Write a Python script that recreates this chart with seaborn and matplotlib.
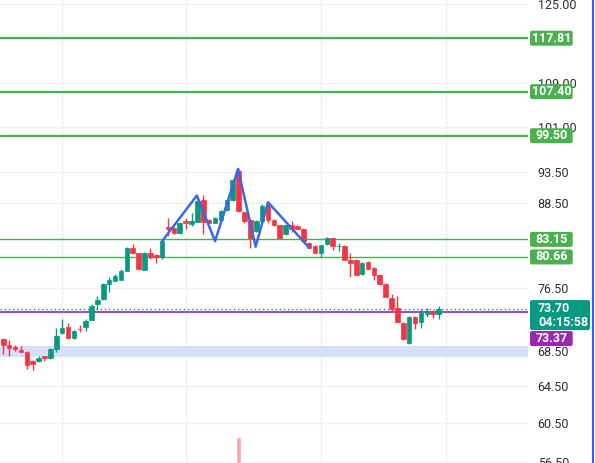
import numpy as np
import pandas as pd
import matplotlib
matplotlib.use("Agg")
import matplotlib.pyplot as plt
import seaborn as sns
from matplotlib.transforms import IdentityTransform
from matplotlib.patches import FancyBboxPatch
from matplotlib.lines import Line2D

sns.set_theme(style="white")
plt.rcParams["font.family"] = ["Roboto", "DejaVu Sans"]

# ---------------- data ----------------
opens = [69.95, 69.23, 69.03, 68.60, 68.43, 67.34, 67.30, 67.89, 67.65, 68.83,
         70.65, 71.50, 70.07, 71.20, 71.50, 72.32, 74.31, 74.95, 76.93, 77.36,
         77.50, 78.71, 81.96, 81.16, 78.85, 81.16, 80.88, 80.70, 84.99, 84.74,
         84.01, 85.91, 85.42, 85.66, 89.09, 86.06, 85.57, 86.06, 87.46, 88.98,
         93.56, 87.16, 86.06, 84.34, 85.81, 88.33, 86.06, 85.18, 83.87, 85.22,
         85.06, 84.59, 82.67, 82.19, 81.26, 82.43, 83.29, 82.16, 82.19, 80.22,
         80.22, 78.26, 79.95, 79.17, 78.17, 76.93, 75.08, 73.80, 71.99, 69.55,
         72.75, 72.07, 73.04, 73.46, 73.04]
highs = [70.07, 69.83, 69.23, 69.11, 68.51, 67.49, 67.96, 67.96, 68.87, 71.26,
         72.41, 71.88, 71.05, 71.67, 72.41, 74.40, 75.38, 77.06, 77.86, 78.26,
         78.94, 82.07, 82.53, 81.23, 81.30, 81.96, 81.02, 83.00, 86.32, 84.88,
         85.76, 86.32, 87.07, 89.01, 89.87, 86.21, 86.51, 87.48, 89.24, 92.30,
         93.94, 87.26, 86.14, 86.06, 88.33, 88.48, 86.21, 85.32, 85.32, 85.91,
         85.18, 84.74, 82.79, 82.29, 82.36, 83.51, 83.36, 82.57, 82.29, 81.16,
         80.32, 79.97, 80.04, 79.28, 78.26, 77.06, 75.70, 75.38, 72.09, 72.85,
         72.85, 73.76, 73.89, 73.55, 74.09]
lows = [68.16, 67.96, 68.51, 68.40, 66.41, 66.29, 67.22, 67.34, 67.57, 68.40,
        70.56, 69.95, 70.01, 70.80, 70.96, 72.29, 73.76, 74.82, 75.87, 77.32,
        77.45, 78.67, 81.02, 78.94, 78.80, 80.32, 79.86, 80.42, 83.62, 83.86,
        83.94, 84.59, 85.06, 85.62, 83.87, 85.47, 85.47, 85.91, 87.34, 88.94,
        87.18, 85.57, 81.96, 84.23, 85.76, 85.47, 85.03, 83.29, 83.72, 84.20,
        84.59, 82.79, 81.86, 81.16, 80.70, 82.36, 81.62, 81.48, 80.18, 77.95,
        78.13, 78.19, 78.94, 77.50, 76.79, 75.21, 73.33, 72.04, 69.83, 69.35,
        71.17, 71.38, 72.75, 72.51, 72.41]
closes = [69.27, 68.91, 68.83, 68.43, 66.87, 67.02, 67.72, 67.69, 68.75, 70.35,
          71.38, 70.07, 70.96, 71.14, 72.25, 74.09, 74.82, 76.93, 77.50, 78.04,
          78.71, 81.96, 81.16, 79.04, 81.16, 80.70, 80.64, 82.90, 84.59, 84.01,
          85.57, 85.57, 85.81, 88.83, 85.66, 85.57, 86.32, 87.31, 89.09, 92.11,
          87.31, 85.91, 83.29, 85.91, 88.17, 86.06, 85.18, 83.39, 85.18, 84.59,
          84.69, 82.90, 81.96, 81.26, 82.29, 83.29, 82.19, 82.22, 80.22, 79.86,
          78.17, 79.86, 79.04, 78.17, 76.93, 75.30, 73.67, 72.12, 69.95, 72.75,
          71.91, 73.17, 73.46, 73.04, 73.70]

volume_idx = [40]
volume_val = [5.2]

pattern_x = [27.0, 32.9, 36.0, 39.9, 42.9, 45.0, 52.0]
pattern_y = [82.89, 89.71, 82.89, 93.94, 82.10, 88.68, 81.96]

level_strong = [117.81, 107.40, 99.50]
level_weak = [83.15, 80.66]
last_price = 73.70
countdown = "04:15:58"
purple_level = 73.37
zone_low, zone_high = 67.77, 69.17

y_ticks = [125.00, 109.00, 101.00, 93.50, 88.50, 76.50, 68.50, 64.50, 60.50, 56.50]
time_grid = [10, 31, 54, 75.3]

# ---------------- styling ----------------
UP = "#089981"
DOWN = "#f23645"
W, H = 595, 463

df = pd.DataFrame({"open": opens, "high": highs, "low": lows, "close": closes})
df["idx"] = np.arange(len(df))
df["up"] = df["close"] >= df["open"]
df["color"] = np.where(df["up"], UP, DOWN)

fig = plt.figure(figsize=(W / 100, H / 100), dpi=100)
fig.patch.set_facecolor("white")
ax = fig.add_axes([0, 0, 528 / W, 1])
ax.set_facecolor("white")

# volume (behind, separate scale)
ax2 = ax.twinx()
ax2.bar(volume_idx, volume_val, width=0.8, color="#f7a6a6", zorder=1)
ax2.set_ylim(0, max(volume_val) * 17.6)
ax2.axis("off")

ax.set_yscale("log")
ax.set_ylim(56.45, 125.87)
ax.set_xlim(-0.56, 89.2)
for s in ax.spines.values():
    s.set_visible(False)

ax.yaxis.set_minor_locator(matplotlib.ticker.NullLocator())
ax.yaxis.set_minor_formatter(matplotlib.ticker.NullFormatter())
ax.set_yticks(y_ticks)
ax.set_yticklabels([f"{v:.2f}" for v in y_ticks])
ax.yaxis.tick_right()
ax.tick_params(axis="y", which="both", length=0, pad=7, labelsize=9,
               labelcolor="#2a2e39", labelright=True, labelleft=False)
ax.set_xticks(time_grid)
ax.set_xticklabels([])
ax.tick_params(axis="x", length=0)
ax.grid(True, color="#eef0f4", lw=1)
ax.set_axisbelow(True)

# demand zone
ax.axhspan(zone_low, zone_high, color="#d5e0fb", lw=0, zorder=1)

# levels
for lv in level_strong:
    ax.axhline(lv, color="#4caf50", lw=1.6, zorder=2)
for lv in level_weak:
    ax.axhline(lv, color="#4caf50", lw=1.0, zorder=2)
ax.axhline(last_price, color="#089981", lw=1.0, ls=(0, (1, 2)), zorder=2)
ax.axhline(purple_level, color="#9c27b0", lw=1.2, zorder=2)

# candles
ax.vlines(df["idx"], df["low"], df["high"], colors=df["color"], lw=1.0, zorder=3)
body_lo = np.minimum(df["open"], df["close"])
body_h = np.abs(df["close"] - df["open"])
ax.bar(df["idx"], body_h, bottom=body_lo, width=0.78, color=df["color"],
       edgecolor=df["color"], lw=0.5, zorder=4)

# pattern
sns.lineplot(x=pattern_x, y=pattern_y, ax=ax, color="#3d68e3", lw=1.8,
             sort=False, zorder=5)

# price labels on the right
fig.canvas.draw()
ident = IdentityTransform()


def label(value, text, color, width=42.7, height=15.0):
    yc = ax.transData.transform((0, value))[1]
    box = FancyBboxPatch((530, yc - height / 2), width, height,
                         boxstyle="round,pad=0,rounding_size=2",
                         facecolor=color, edgecolor="none",
                         transform=ident, zorder=10)
    fig.add_artist(box)
    fig.text(530 + width / 2, yc, text, transform=ident, ha="center",
             va="center", color="white", fontsize=9, fontweight="bold",
             zorder=11)


for lv in level_strong + level_weak:
    label(lv, f"{lv:.2f}", "#4caf50")

# last price box (two lines)
yc = ax.transData.transform((0, last_price))[1]
top = yc + 9
fig.add_artist(FancyBboxPatch((530, top - 30), 60, 30,
                              boxstyle="round,pad=0,rounding_size=2",
                              facecolor="#089981", edgecolor="none",
                              transform=ident, zorder=10))
fig.text(538, top - 8, f"{last_price:.2f}", transform=ident, ha="left",
         va="center", color="white", fontsize=9, fontweight="bold", zorder=11)
fig.text(538, top - 22, countdown, transform=ident, ha="left",
         va="center", color="white", fontsize=9, fontweight="bold", zorder=11)

fig.add_artist(FancyBboxPatch((530, top - 30 - 16), 42.7, 15,
                              boxstyle="round,pad=0,rounding_size=2",
                              facecolor="#9c27b0", edgecolor="none",
                              transform=ident, zorder=10))
fig.text(530 + 42.7 / 2, top - 30 - 8.5, f"{purple_level:.2f}", transform=ident,
         ha="center", va="center", color="white", fontsize=9,
         fontweight="bold", zorder=11)

# right border
fig.add_artist(Line2D([592.5, 592.5], [0, H], transform=ident,
                      color="#2962ff", lw=1.5))

fig.savefig("out.png", dpi=100)
